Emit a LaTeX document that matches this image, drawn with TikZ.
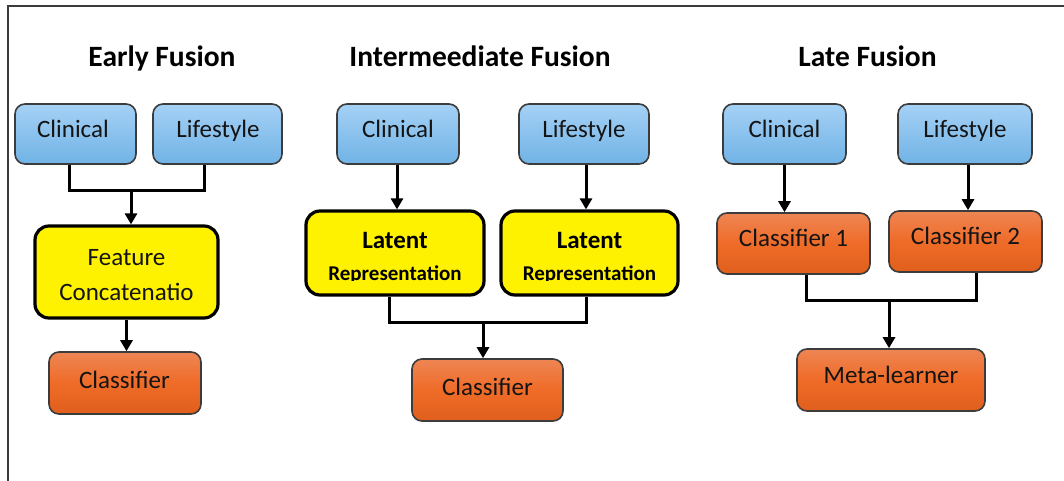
\documentclass[tikz,border=0pt]{standalone}
\usepackage{fontspec}
\setmainfont{Carlito}
\usetikzlibrary{arrows.meta}
\definecolor{bluetop}{HTML}{A5D1F5}
\definecolor{bluebot}{HTML}{70B3E6}
\definecolor{ortop}{HTML}{EE8654}
\definecolor{ormid}{HTML}{EF6B28}
\definecolor{orbot}{HTML}{E05F1C}
\definecolor{edge}{HTML}{3C3C3C}
\definecolor{ink}{HTML}{141414}
\tikzset{
 base/.style={draw=edge, line width=1.6pt, rounded corners=10pt, inner sep=0pt},
 bluebox/.style={base, top color=bluetop, bottom color=bluebot},
 orbox/.style={base, top color=ortop, bottom color=orbot, middle color=ormid},
 yelbox/.style={draw=black, line width=3.2pt, rounded corners=14pt, fill=yellow, inner sep=0pt},
 lab/.style={anchor=base, inner sep=0pt, text=ink, font=\fontsize{25}{29}\selectfont},
 blab/.style={anchor=base, inner sep=0pt, text=black, font=\fontsize{25}{29}\selectfont\bfseries},
 slab/.style={anchor=base, inner sep=0pt, text=black, font=\fontsize{21}{24}\selectfont\bfseries},
 ttl/.style={anchor=base, inner sep=0pt, text=black, font=\fontsize{29.5}{33}\selectfont\bfseries},
 conn/.style={line width=3pt, black},
 arr/.style={conn, -{Triangle[length=11pt,width=12pt]}},
}
\begin{document}
\begin{tikzpicture}[x=1pt,y=-1pt]
\useasboundingbox (0,0) rectangle (1064,481);
\draw[line width=2pt, edge] (8,481) -- (8,6) -- (1064,6);

% Titles
\node[ttl] (t1) at (162,67) {Early Fusion};
\node[ttl] (t2) at (480,67) {Intermeediate Fusion};
\node[ttl] (t3) at (867.5,67) {Late Fusion};

% ---------- Early fusion ----------
\node[bluebox, minimum width=121pt, minimum height=60pt] (ec) at (75.5,134) {};
\node[lab] (ect) at (73,138) {Clinical};
\node[bluebox, minimum width=129pt, minimum height=60pt] (el) at (217.5,134) {};
\node[lab] (elt) at (218,138) {Lifestyle};
\node[yelbox, minimum width=183pt, minimum height=92pt] (ef) at (126.5,272) {};
\node[lab] (eft1) at (126.5,265) {Feature};
\node[lab] (eft2) at (126.5,300) {Concatenatio};
\node[orbox, minimum width=152pt, minimum height=62pt] (ecl) at (125,383) {};
\node[lab] (eclt) at (124.5,388) {Classifier};

\coordinate (ej) at (131,190);
\draw[conn] ([xshift=-6.5pt]ec.south) |- (ej) -| ([xshift=-13.5pt]el.south);
\draw[arr] (ej) -- (ej |- ef.north);
\draw[arr] (ef.south) -- (ef.south |- ecl.north);

% ---------- Intermediate fusion ----------
\node[bluebox, minimum width=122pt, minimum height=60pt] (ic) at (398,134) {};
\node[lab] (ict) at (398,138) {Clinical};
\node[bluebox, minimum width=130pt, minimum height=60pt] (il) at (584,134) {};
\node[lab] (ilt) at (584,138) {Lifestyle};
\node[yelbox, minimum width=178pt, minimum height=84pt] (il1) at (395,253) {};
\node[yelbox, minimum width=177pt, minimum height=84pt] (il2) at (589.5,253) {};
\node[blab] (il1a) at (395,248) {Latent};
\node[blab] (il2a) at (589.5,248) {Latent};
\begin{scope}
\clip (300,200) rectangle (700,280.5);
\node[slab] (il1b) at (395,280) {Representation};
\node[slab] (il2b) at (589.5,280) {Representation};
\end{scope}
\node[orbox, minimum width=151pt, minimum height=62pt] (icl) at (487.5,390) {};
\node[lab] (iclt) at (487.5,395) {Classifier};

\draw[arr] ([xshift=-1pt]ic.south) -- ([xshift=-1pt]ic.south |- il1.north);
\draw[arr] ([xshift=2pt]il.south) -- ([xshift=2pt]il.south |- il2.north);
\coordinate (ij) at (483,322);
\draw[conn] ([xshift=-6pt]il1.south) |- (ij) -| ([xshift=-3.5pt]il2.south);
\draw[arr] (ij) -- (ij |- icl.north);

% ---------- Late fusion ----------
\node[bluebox, minimum width=123pt, minimum height=60pt] (lc) at (784.5,134) {};
\node[lab] (lct) at (784.5,138) {Clinical};
\node[bluebox, minimum width=134pt, minimum height=60pt] (ll) at (965,134) {};
\node[lab] (llt) at (965,138) {Lifestyle};
\node[orbox, minimum width=153pt, minimum height=61pt] (lc1) at (793.5,243.5) {};
\node[lab] (lc1t) at (793.5,246) {Classifier 1};
\node[orbox, minimum width=153pt, minimum height=61pt] (lc2) at (965.5,241.5) {};
\node[lab] (lc2t) at (965.5,244) {Classifier 2};
\node[orbox, minimum width=188pt, minimum height=62pt] (lm) at (891,380) {};
\node[lab] (lmt) at (891,383) {Meta-learner};

\draw[arr] (lc.south) -- (lc.south |- lc1.north);
\draw[arr] ([xshift=3pt]ll.south) -- ([xshift=3pt]ll.south |- lc2.north);
\coordinate (lj) at (889,300);
\draw[conn] ([xshift=12.5pt]lc1.south) |- (lj) -| ([xshift=10.5pt]lc2.south);
\draw[arr] (lj) -- (lj |- lm.north);
\end{tikzpicture}
\end{document}
